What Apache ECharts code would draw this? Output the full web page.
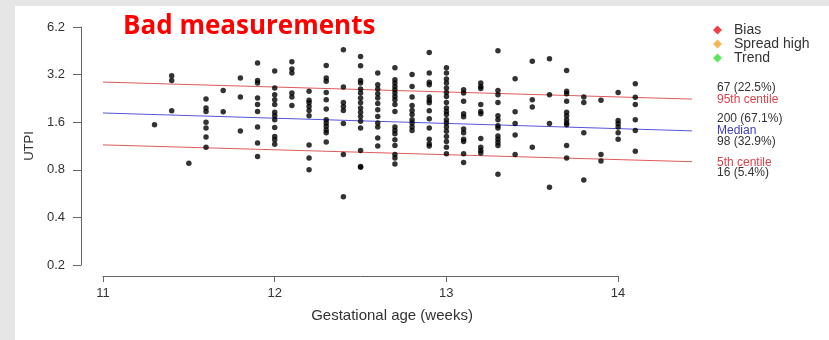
<!DOCTYPE html>
<html>
<head>
<meta charset="utf-8">
<script src="https://cdn.jsdelivr.net/npm/echarts@6/dist/echarts.min.js"></script>
<style>
  html, body { margin: 0; padding: 0; }
  body { width: 829px; height: 340px; background: #e6e6e6; position: relative; overflow: hidden; }
  #panel { position: absolute; left: 15px; top: 6px; right: 0; bottom: 0; background: #fff; }
  #chart { position: absolute; left: 0; top: 0; width: 829px; height: 340px; }
</style>
</head>
<body>
<div id="panel"></div>
<div id="chart"></div>
<script>
// gestational age columns (weeks) and the UTPI values measured in each
const ages = [11.3, 11.4, 11.5, 11.6, 11.7, 11.8, 11.9, 12.0, 12.1, 12.2, 12.3, 12.4, 12.5, 12.6, 12.7,
  12.8, 12.9, 13.0, 13.1, 13.2, 13.3, 13.4, 13.5, 13.6, 13.7, 13.8, 13.9, 14.0, 14.1];
const utpi = [
  [1.54],
  [3.15, 2.94, 1.89],
  [0.88],
  [2.24, 1.97, 1.87, 1.60, 1.47, 1.29, 1.11],
  [2.54, 1.86],
  [3.05, 2.31, 1.41],
  [3.79, 2.94, 2.83, 2.28, 2.07, 1.87, 1.49, 1.18, 0.97],
  [3.37, 2.63, 2.39, 2.22, 2.07, 1.85, 1.76, 1.66, 1.48, 1.30, 1.24, 1.16],
  [3.86, 3.47, 3.28, 2.45, 2.31, 2.04],
  [2.51, 2.20, 2.12, 2.01, 1.90, 1.76, 1.15, 0.95, 0.80],
  [3.66, 3.05, 2.90, 2.47, 2.22, 1.94, 1.66, 1.58, 1.51, 1.43, 1.37, 1.20],
  [4.60, 2.67, 2.13, 2.01, 1.90, 1.57, 1.00, 0.54],
  [4.17, 3.64, 2.94, 2.83, 2.59, 2.45, 2.28, 2.12, 1.97, 1.85, 1.74, 1.62, 1.47, 1.06, 0.84, 0.83],
  [3.28, 2.76, 2.59, 2.42, 2.28, 2.10, 1.92, 1.74, 1.58, 1.49, 1.27, 1.13],
  [3.53, 2.97, 2.83, 2.69, 2.57, 2.45, 2.33, 2.22, 2.07, 1.87, 1.49, 1.42, 1.35, 1.24, 1.14, 1.00, 0.95, 0.87],
  [3.20, 2.69, 2.31, 2.04, 1.90, 1.79, 1.66, 1.58, 1.49, 1.42],
  [4.42, 3.28, 2.86, 2.76, 2.31, 2.20, 2.12, 1.89, 1.68, 1.47, 1.25, 1.17, 1.13],
  [3.53, 3.28, 3.00, 2.83, 2.63, 2.47, 2.33, 2.13, 1.97, 1.87, 1.79, 1.66, 1.58, 1.49, 1.40, 1.30, 1.21, 1.11, 1.01],
  [2.57, 2.45, 2.17, 1.81, 1.73, 1.45, 1.37, 1.25, 1.21, 1.01, 0.89],
  [2.83, 2.69, 2.61, 2.07, 1.87, 1.81, 1.26, 1.11, 1.06, 1.02],
  [4.53, 2.54, 2.39, 2.13, 1.76, 1.66, 1.52, 1.47, 1.31, 1.25, 1.19, 1.14, 0.75],
  [3.01, 1.86, 1.57, 1.33, 1.00],
  [3.88, 2.22, 2.00, 1.11],
  [4.03, 2.39, 1.57, 0.62],
  [3.40, 2.51, 2.42, 2.17, 1.85, 1.76, 1.66, 1.58, 1.54, 1.14, 0.95],
  [2.31, 2.13, 1.37, 0.69],
  [2.20, 1.00, 0.91],
  [2.47, 1.64, 1.57, 1.49, 1.37, 1.25],
  [2.80, 2.30, 2.07, 1.66, 1.42, 1.05]
];

// centile lines: value at start and end age
const lineAges = [11, 14.43];
const p95 = [2.87, 2.24];
const median = [1.83, 1.41];
const p5 = [1.15, 0.90];

const yTickLabels = ['0.2', '0.4', '0.8', '1.6', '3.2', '6.2'];
const legendNames = ['Bias', 'Spread high', 'Trend'];
const legendColors = ['#e8121c', '#f0a628', '#2fe02f'];

// right-hand notes: text and colour
const notes = [
  ['67 (22.5%)', '#333'],
  ['95th centile', '#d8434b'],
  ['200 (67.1%)', '#333'],
  ['Median', '#3b3bc4'],
  ['98 (32.9%)', '#333'],
  ['5th centile', '#d8434b'],
  ['16 (5.4%)', '#333']
];
const noteY = [88, 100, 119, 131, 142, 163, 173];

const FONT = "'Liberation Sans', Arial, sans-serif";

const scatterData = ages.flatMap((a, i) => utpi[i].map(v => [a, v]));
const toLine = vals => lineAges.map((a, i) => [a, vals[i]]);

const chart = echarts.init(document.getElementById('chart'));

const option = {
  backgroundColor: 'transparent',
  animation: false,
  title: {
    text: 'Bad measurements',
    left: 123,
    top: 14,
    padding: 0,
    textStyle: { fontFamily: "'Open Sans', sans-serif", fontWeight: 'bold', fontSize: 26, color: '#ff0000' }
  },
  legend: {
    orient: 'vertical',
    left: 713,
    top: 23,
    padding: 0,
    itemGap: 0,
    itemWidth: 9,
    itemHeight: 9,
    selectedMode: false,
    icon: 'diamond',
    data: legendNames,
    textStyle: { fontFamily: FONT, fontSize: 14, color: '#333', lineHeight: 14, padding: [0, 0, 0, 7] }
  },
  grid: [
    // data area
    { left: 103, top: 27, width: 601, height: 238, containLabel: false, outerBoundsMode: 'none' },
    // axis frame (R style, axes detached)
    { left: 103, top: 27, width: 515, height: 238, containLabel: false, outerBoundsMode: 'none' }
  ],
  xAxis: [
    {
      type: 'value', gridIndex: 0, min: 11, max: 14.5,
      axisLine: { show: false }, axisTick: { show: false }, axisLabel: { show: false }, splitLine: { show: false }
    },
    {
      type: 'value', gridIndex: 1, min: 11, max: 14, interval: 1, offset: 11,
      axisLine: { show: true, onZero: false, lineStyle: { color: '#666', width: 1 } },
      axisTick: { show: true, length: 6, lineStyle: { color: '#666' } },
      axisLabel: { margin: 11, fontFamily: FONT, fontSize: 13, color: '#333' },
      splitLine: { show: false }
    }
  ],
  yAxis: [
    {
      type: 'log', logBase: 2, gridIndex: 0, min: 0.2, max: 6.4,
      axisLine: { show: false }, axisTick: { show: false }, axisLabel: { show: false }, splitLine: { show: false }
    },
    {
      type: 'category', gridIndex: 1, data: yTickLabels, boundaryGap: false, offset: 22,
      name: 'UTPI', nameLocation: 'middle', nameGap: 42,
      nameTextStyle: { fontFamily: FONT, fontSize: 13, color: '#333' },
      axisLine: { show: true, onZero: false, lineStyle: { color: '#666', width: 1 } },
      axisTick: { show: true, length: 8, interval: 0, lineStyle: { color: '#666' } },
      axisLabel: { interval: 0, margin: 16, fontFamily: FONT, fontSize: 13, color: '#333' },
      splitLine: { show: false }
    }
  ],
  series: [
    {
      name: '95th centile', type: 'line', xAxisIndex: 0, yAxisIndex: 0, data: toLine(p95),
      symbol: 'none', lineStyle: { color: '#e05a5a', width: 1 }, silent: true, clip: false
    },
    {
      name: 'Median', type: 'line', xAxisIndex: 0, yAxisIndex: 0, data: toLine(median),
      symbol: 'none', lineStyle: { color: '#5454dc', width: 1 }, silent: true, clip: false
    },
    {
      name: '5th centile', type: 'line', xAxisIndex: 0, yAxisIndex: 0, data: toLine(p5),
      symbol: 'none', lineStyle: { color: '#e05a5a', width: 1 }, silent: true, clip: false
    },
    {
      name: 'UTPI', type: 'scatter', xAxisIndex: 0, yAxisIndex: 0, data: scatterData,
      symbol: 'circle', symbolSize: 5.5, itemStyle: { color: '#000' }, silent: true, z: 3
    }
  ].concat(legendNames.map((n, i) => ({
    name: n, type: 'scatter', xAxisIndex: 0, yAxisIndex: 0, data: [], itemStyle: { color: legendColors[i] }
  }))),
  graphic: notes.map((n, i) => ({
    type: 'text', x: 717, y: noteY[i], silent: true,
    style: { text: n[0], fill: n[1], font: '12px ' + FONT, verticalAlign: 'middle', textVerticalAlign: 'middle' }
  })).concat([{
    type: 'text', x: 392, y: 316, silent: true,
    style: { text: 'Gestational age (weeks)', fill: '#333', font: '15px ' + FONT,
      align: 'center', textAlign: 'center', verticalAlign: 'middle', textVerticalAlign: 'middle' }
  }])
};

chart.setOption(option);
</script>
</body>
</html>
